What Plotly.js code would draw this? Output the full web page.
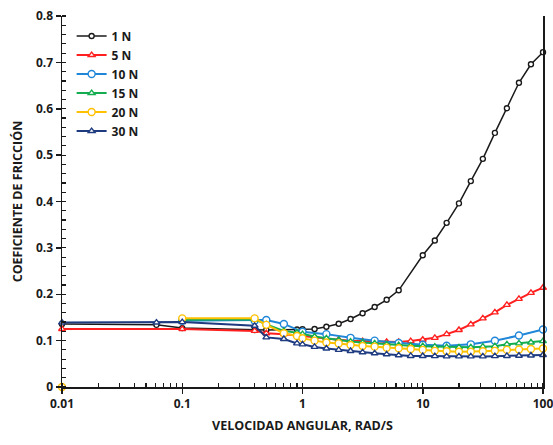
<!DOCTYPE html>
<html>
<head>
<meta charset="utf-8">
<script src="https://cdn.plot.ly/plotly-3.0.1.min.js"></script>
<style>html,body{margin:0;padding:0;background:#fff;}#chart{width:553px;height:445px;}</style>
</head>
<body>
<div id="chart"></div>
<script>
// ---- data ----
const seriesNames = ["1 N", "5 N", "10 N", "15 N", "20 N", "30 N"];

const s1N_x = [0.01, 0.061, 0.1, 0.4, 0.5, 0.9, 1, 1.26, 1.58, 2, 2.51, 3.16, 3.98, 5.01, 6.31, 10, 12.6, 15.8, 20, 25.1, 31.6, 39.8, 50.1, 63.1, 79.4, 100];
const s1N_y = [0.136, 0.134, 0.127, 0.123, 0.123, 0.124, 0.1244, 0.125, 0.130, 0.1365, 0.1466, 0.159, 0.1725, 0.188, 0.2085, 0.284, 0.316, 0.354, 0.396, 0.444, 0.492, 0.548, 0.601, 0.656, 0.696, 0.722];

const s5N_x = [0.01, 0.1, 0.4, 0.5, 0.7, 0.9, 1, 1.26, 1.58, 2, 2.51, 3.16, 3.98, 5.01, 6.31, 7.94, 10, 12.6, 15.8, 20, 25.1, 31.6, 39.8, 50.1, 63.1, 79.4, 100];
const s5N_y = [0.125, 0.125, 0.121, 0.116, 0.114, 0.112, 0.110, 0.107, 0.104, 0.102, 0.100, 0.099, 0.098, 0.097, 0.097, 0.099, 0.102, 0.106, 0.114, 0.123, 0.135, 0.148, 0.161, 0.177, 0.190, 0.203, 0.214];

const s10N_x = [0.1, 0.4, 0.5, 0.7, 1, 1.58, 2.51, 3.98, 6.31, 10, 15.8, 25.1, 39.8, 63.1, 100];
const s10N_y = [0.143, 0.143, 0.1445, 0.136, 0.119, 0.114, 0.106, 0.100, 0.095, 0.091, 0.089, 0.092, 0.0998, 0.111, 0.124];

const s15N_x = [0.1, 0.4, 0.5, 0.7, 0.9, 1, 1.26, 1.58, 2, 2.51, 3.16, 3.98, 5.01, 6.31, 7.94, 10, 12.6, 15.8, 20, 25.1, 31.6, 39.8, 50.1, 63.1, 79.4, 100];
const s15N_y = [0.145, 0.146, 0.135, 0.121, 0.117, 0.114, 0.109, 0.105, 0.101, 0.098, 0.096, 0.094, 0.092, 0.090, 0.089, 0.088, 0.087, 0.086, 0.0856, 0.0856, 0.087, 0.088, 0.092, 0.094, 0.096, 0.099];

const s20N_x = [0.01, 0.061, 0.1, 0.4, 0.5, 0.7, 0.9, 1, 1.26, 1.58, 2, 2.51, 3.16, 3.98, 5.01, 6.31, 7.94, 10, 12.6, 15.8, 20, 25.1, 31.6, 39.8, 50.1, 63.1, 79.4, 100];
const s20N_y = [0, null, 0.148, 0.148, 0.134, 0.116, 0.110, 0.105, 0.100, 0.096, 0.094, 0.0906, 0.0884, 0.087, 0.0848, 0.0834, 0.082, 0.080, 0.078, 0.077, 0.076, 0.076, 0.077, 0.078, 0.080, 0.081, 0.082, 0.083];

const s30N_x = [0.01, 0.061, 0.1, 0.4, 0.5, 0.7, 0.9, 1, 1.26, 1.58, 2, 2.51, 3.16, 3.98, 5.01, 6.31, 7.94, 10, 12.6, 15.8, 20, 25.1, 31.6, 39.8, 50.1, 63.1, 79.4, 100];
const s30N_y = [0.139, 0.139, 0.140, 0.132, 0.107, 0.1035, 0.094, 0.092, 0.0865, 0.083, 0.080, 0.0776, 0.0748, 0.0727, 0.0705, 0.0684, 0.067, 0.0668, 0.0665, 0.066, 0.066, 0.066, 0.066, 0.0665, 0.067, 0.0675, 0.068, 0.069];

const xTickVals = [0.01, 0.1, 1, 10, 100];
const xTickText = ["0.01", "0.1", "1", "10", "100"];
const xTitle = "VELOCIDAD ANGULAR, RAD/S";
const yTitle = "COEFICIENTE DE FRICCIÓN";

// ---- styling ----
const colors = ["#1a1a1a", "#ff1f1f", "#1f86d8", "#13ad4f", "#ffc000", "#1f3b80"];
const symbols = ["circle", "triangle-up", "circle", "triangle-up", "circle", "triangle-up"];
const msizes = [5, 6, 7, 6, 7, 6];
const xs = [s1N_x, s5N_x, s10N_x, s15N_x, s20N_x, s30N_x];
const ys = [s1N_y, s5N_y, s10N_y, s15N_y, s20N_y, s30N_y];

const traces = seriesNames.map((n, i) => ({
  type: "scatter",
  mode: "lines+markers",
  name: n,
  x: xs[i],
  y: ys[i],
  connectgaps: false,
  cliponaxis: false,
  line: {color: colors[i], width: i === 0 ? 1.5 : 2},
  marker: {symbol: symbols[i], size: msizes[i], color: "#ffffff", line: {width: 1.4, color: colors[i]}}
}));

const fam = "'Open Sans', sans-serif";

const layout = {
  width: 553,
  height: 445,
  margin: {l: 62, r: 10, t: 16, b: 58},
  paper_bgcolor: "#fff",
  plot_bgcolor: "#fff",
  font: {family: fam, size: 12, color: "#1a1a1a", weight: "bold"},
  showlegend: true,
  legend: {
    x: 0.02, y: 0.985, xanchor: "left", yanchor: "top",
    bgcolor: "rgba(0,0,0,0)",
    font: {family: fam, size: 12, color: "#1a1a1a", weight: "bold"},
    itemwidth: 30
  },
  xaxis: {
    type: "log",
    range: [-2, 2],
    tickmode: "array",
    tickvals: xTickVals,
    ticktext: xTickText,
    ticklabeloverflow: "allow",
    ticks: "outside",
    ticklen: 5,
    tickwidth: 1.5,
    tickcolor: "#1a1a1a",
    showline: true,
    linecolor: "#1a1a1a",
    linewidth: 1.5,
    showgrid: false,
    zeroline: false,
    tickfont: {family: fam, size: 12, color: "#1a1a1a", weight: "bold"},
    minor: {ticks: "inside", ticklen: 4, tickwidth: 1.2, tickcolor: "#1a1a1a", dtick: "D1", showgrid: false},
    title: {text: xTitle, standoff: 10, font: {family: fam, size: 12.5, color: "#1a1a1a", weight: "bold"}}
  },
  yaxis: {
    range: [0, 0.8],
    dtick: 0.1,
    tick0: 0,
    ticks: "outside",
    ticklen: 5,
    tickwidth: 1.5,
    tickcolor: "#1a1a1a",
    showline: true,
    mirror: true,
    linecolor: "#1a1a1a",
    linewidth: 1.5,
    showgrid: false,
    zeroline: false,
    tickfont: {family: fam, size: 12, color: "#1a1a1a", weight: "bold"},
    minor: {ticks: "inside", ticklen: 4, tickwidth: 1.2, tickcolor: "#1a1a1a", dtick: 0.02, showgrid: false},
    title: {text: yTitle, standoff: 10, font: {family: fam, size: 12.5, color: "#1a1a1a", weight: "bold"}}
  }
};

Plotly.newPlot("chart", traces, layout, {staticPlot: true, displayModeBar: false});
</script>
</body>
</html>
